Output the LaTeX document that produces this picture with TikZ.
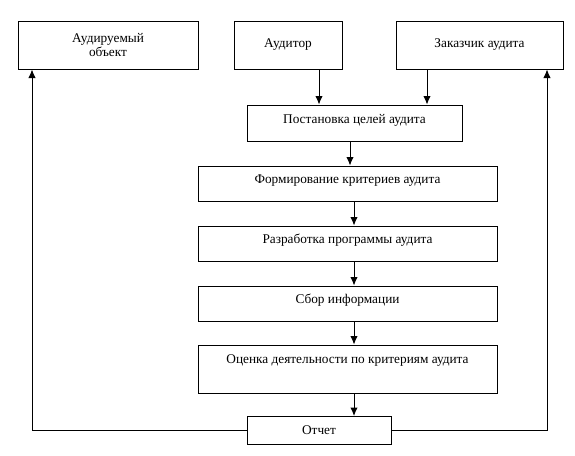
\documentclass[tikz,border=0pt]{standalone}
\usepackage{fontspec}
\setmainfont{Liberation Serif}
\usetikzlibrary{arrows.meta}

\begin{document}
\begin{tikzpicture}[x=1pt,y=-1pt,
  blok/.style={draw,line width=1pt,inner sep=0pt,align=center,
    font=\fontsize{13.3}{14.5}\selectfont},
  ravno/.style={text height=9pt,text depth=9pt},
  strelka/.style={-{Latex[length=8.5pt,width=7.5pt]},line width=1pt}]
  \useasboundingbox (0,0) rectangle (575,455);

  \coordinate (O1) at (108,45);
  \coordinate (A1) at (288,45);
  \coordinate (Z1) at (479.5,45);
  \coordinate (P1) at (354.5,123);
  \coordinate (F1) at (347.5,183.5);
  \coordinate (R1) at (347.5,243.5);
  \coordinate (S1) at (347.5,303.5);
  \coordinate (C1) at (347.5,369);
  \coordinate (T1) at (319,430.5);

  % x of the vertical lines
  \coordinate (xa) at (319,0);
  \coordinate (xz) at (427,0);
  \coordinate (xp) at (350,0);
  \coordinate (xm) at (354,0);
  \coordinate (xl) at (32,0);
  \coordinate (xr) at (547,0);

  \node[
    blok,
    minimum width=180pt,
    minimum height=48pt] at (O1) (obekt) {Аудируемый\\объект};
  \node[
    blok,
    minimum width=108pt,
    minimum height=48pt] at (A1) (auditor) {Аудитор};
  \node[
    blok,
    minimum width=167pt,
    minimum height=48pt] at (Z1) (zakazchik) {Заказчик аудита};

  \node[
    blok,ravno,
    minimum width=215pt,
    minimum height=36pt] at (P1) (postanovka) {Постановка целей аудита};
  \node[
    blok,ravno,
    minimum width=299pt,
    minimum height=35pt] at (F1) (formirovanie) {Формирование критериев аудита};
  \node[
    blok,ravno,
    minimum width=299pt,
    minimum height=35pt] at (R1) (razrabotka) {Разработка программы аудита};
  \node[
    blok,ravno,
    minimum width=299pt,
    minimum height=35pt] at (S1) (sbor) {Сбор информации};
  \node[
    blok,text height=9pt,text depth=21pt,
    minimum width=299pt,
    minimum height=48pt] at (C1) (ocenka) {Оценка деятельности по критериям аудита};
  \node[
    blok,
    minimum width=144pt,
    minimum height=28pt] at (T1) (otchet) {Отчет};

  \draw[strelka] (auditor.south -| xa) -- (postanovka.north -| xa);
  \draw[strelka] (zakazchik.south -| xz) -- (postanovka.north -| xz);
  \draw[strelka] (postanovka.south -| xp) -- (formirovanie.north -| xp);
  \draw[strelka] (formirovanie.south -| xm) -- (razrabotka.north -| xm);
  \draw[strelka] (razrabotka.south -| xm) -- (sbor.north -| xm);
  \draw[strelka] (sbor.south -| xm) -- (ocenka.north -| xm);
  \draw[strelka] (ocenka.south -| xm) -- (otchet.north -| xm);

  \draw[strelka] (otchet.west) -| (obekt.south -| xl);
  \draw[strelka] (otchet.east) -| (zakazchik.south -| xr);

\end{tikzpicture}
\end{document}
